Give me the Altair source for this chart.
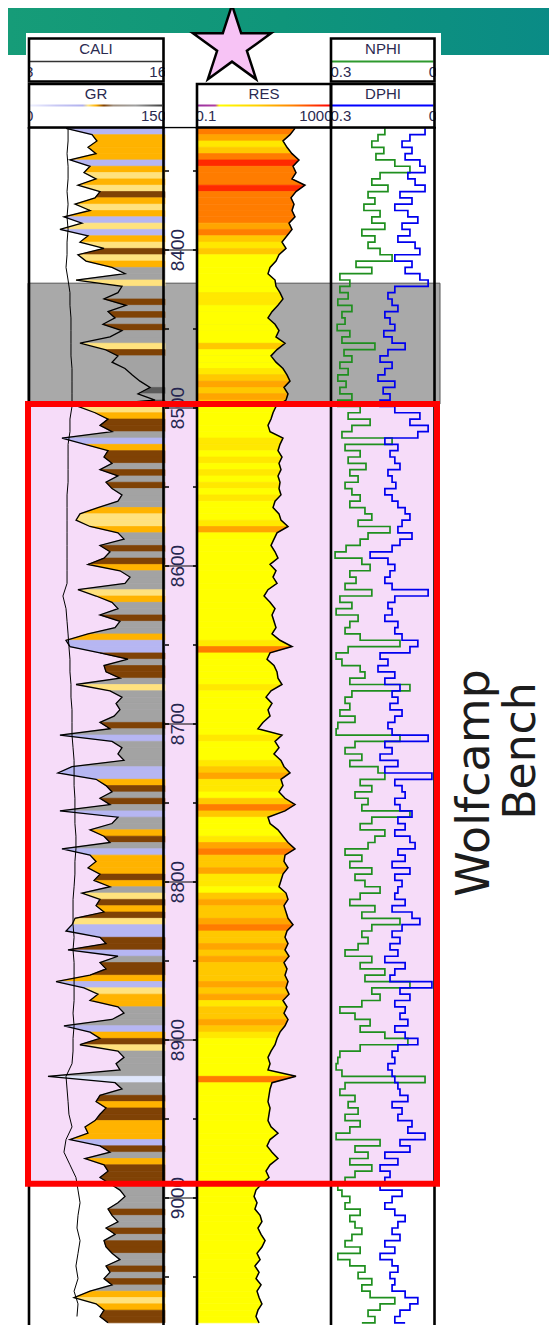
import math
import altair as alt
import pandas as pd

DEPTH_TOP = 8323   # ft, first sample
STEP = 4           # ft between samples

GR = [  # API
41.6, 70.1, 75.5, 65.7, 74.5, 46.0, 67.9, 61.3, 74.5, 54.7,
78.8, 73.4, 51.5, 67.9, 39.4, 59.1, 35.0, 65.7, 56.9, 83.2,
54.7, 63.5, 92.0, 106.2, 52.6, 102.9, 98.5, 83.2, 107.3, 87.6,
95.3, 82.1, 102.9, 89.8, 56.9, 84.3, 98.5, 92.0, 106.2, 113.9,
122.6, 133.6, 120.4, 139.1, 54.7, 73.4, 87.6, 78.8, 92.0, 37.2,
62.4, 87.6, 83.2, 92.0, 78.8, 98.5, 85.4, 92.0, 102.9, 98.5,
76.6, 56.9, 52.6, 67.9, 98.5, 105.1, 78.8, 89.8, 83.2, 65.7,
100.7, 111.7, 106.2, 54.7, 74.5, 92.0, 98.5, 78.8, 100.7, 95.3,
65.7, 41.6, 46.0, 78.8, 109.5, 83.2, 85.4, 100.7, 52.6, 89.8,
102.9, 96.4, 100.7, 94.2, 78.8, 89.8, 35.0, 92.0, 102.9, 98.5,
105.1, 48.2, 32.8, 74.5, 85.4, 92.0, 78.8, 89.8, 35.0, 98.5,
92.0, 67.9, 83.2, 89.8, 37.2, 67.9, 74.5, 65.7, 78.8, 72.3,
89.8, 59.1, 78.8, 74.5, 83.2, 51.5, 48.2, 41.6, 78.8, 85.4,
43.8, 98.5, 78.8, 85.4, 67.9, 30.7, 61.3, 76.6, 67.9, 98.5,
105.1, 92.0, 39.4, 67.9, 78.8, 56.9, 98.5, 105.1, 96.4, 100.7,
21.9, 95.3, 102.9, 78.8, 74.5, 85.4, 78.8, 73.4, 62.4, 65.7,
46.0, 78.8, 89.8, 62.4, 83.2, 87.6, 78.8, 89.8, 100.7, 106.2,
98.5, 87.6, 92.0, 98.5, 85.4, 95.3, 83.2, 85.4, 92.0, 100.7,
85.4, 89.8, 83.2, 92.0, 67.9, 50.4, 74.5, 83.2, 78.8, 87.6,
]

RES = [  # ohm.m
80.1, 57.0, 35.3, 46.4, 65.3, 105, 69.9, 85.8, 65.3, 158,
85.8, 61.0, 74.8, 65.3, 80.1, 53.2, 65.3, 46.4, 33.0, 43.4,
26.9, 21.9, 14.6, 12.7, 20.5, 21.9, 28.8, 35.3, 25.1, 16.7,
12.7, 20.5, 26.9, 21.9, 40.5, 23.5, 15.6, 21.9, 35.3, 46.4,
57.0, 37.8, 49.7, 43.4, 21.9, 17.9, 15.6, 12.7, 14.6, 35.3,
28.8, 25.1, 33.0, 26.9, 30.8, 25.1, 28.8, 26.9, 30.8, 20.5,
17.9, 26.9, 30.8, 49.7, 23.5, 19.1, 15.6, 20.5, 25.1, 14.6,
21.9, 17.9, 23.5, 12.7, 9.7, 14.6, 20.5, 16.7, 19.1, 21.9,
16.7, 28.8, 65.3, 14.6, 11.9, 19.1, 23.5, 25.1, 33.0, 15.6,
11.1, 16.7, 12.7, 14.6, 9.0, 6.4, 33.0, 20.5, 26.9, 19.1,
30.8, 37.8, 57.0, 30.8, 35.3, 26.9, 40.5, 80.1, 40.5, 12.7,
14.6, 25.1, 35.3, 49.7, 80.1, 40.5, 37.8, 49.7, 35.3, 30.8,
26.9, 43.4, 49.7, 37.8, 43.4, 49.7, 69.9, 46.4, 40.5, 49.7,
40.5, 53.2, 37.8, 46.4, 40.5, 49.7, 43.4, 53.2, 35.3, 46.4,
37.8, 49.7, 40.5, 28.8, 23.5, 20.5, 15.6, 12.7, 14.6, 12.7,
85.8, 16.7, 14.6, 13.6, 12.7, 14.6, 13.6, 12.7, 15.6, 25.1,
14.6, 11.9, 16.7, 25.1, 14.6, 11.1, 13.6, 8.4, 5.6, 4.9,
6.0, 5.2, 7.4, 8.4, 6.4, 7.9, 10.4, 8.4, 6.0, 7.4,
5.2, 6.9, 5.6, 7.9, 6.0, 6.9, 8.4, 6.4, 5.6, 6.9,
]

NPHI = [  # v/v
0.146, 0.166, 0.184, 0.149, 0.172, 0.117, 0.073, 0.160, 0.184, 0.137,
0.195, 0.175, 0.207, 0.160, 0.184, 0.146, 0.213, 0.175, 0.195, 0.160,
0.125, 0.230, 0.184, 0.277, 0.248, 0.277, 0.253, 0.283, 0.242, 0.271,
0.262, 0.285, 0.248, 0.271, 0.175, 0.265, 0.242, 0.277, 0.253, 0.283,
0.259, 0.277, 0.242, 0.283, 0.218, 0.253, 0.189, 0.242, 0.271, 0.125,
0.262, 0.218, 0.253, 0.201, 0.248, 0.224, 0.262, 0.242, 0.218, 0.248,
0.204, 0.184, 0.224, 0.131, 0.195, 0.218, 0.259, 0.291, 0.213, 0.189,
0.248, 0.230, 0.262, 0.184, 0.277, 0.242, 0.288, 0.224, 0.248, 0.262,
0.218, 0.102, 0.253, 0.288, 0.271, 0.218, 0.204, 0.248, 0.073, 0.242,
0.262, 0.248, 0.277, 0.233, 0.283, 0.288, 0.102, 0.233, 0.262, 0.213,
0.248, 0.166, 0.146, 0.218, 0.184, 0.233, 0.195, 0.213, 0.073, 0.184,
0.218, 0.146, 0.175, 0.195, 0.262, 0.213, 0.248, 0.184, 0.233, 0.204,
0.160, 0.218, 0.248, 0.175, 0.213, 0.102, 0.184, 0.213, 0.195, 0.224,
0.262, 0.184, 0.218, 0.146, 0.204, 0.073, 0.184, 0.160, 0.213, 0.277,
0.233, 0.189, 0.218, 0.146, 0.079, 0.218, 0.277, 0.283, 0.288, 0.271,
0.029, 0.262, 0.277, 0.233, 0.253, 0.224, 0.262, 0.218, 0.248, 0.288,
0.160, 0.233, 0.195, 0.248, 0.184, 0.233, 0.262, 0.283, 0.271, 0.248,
0.262, 0.218, 0.248, 0.233, 0.213, 0.242, 0.262, 0.218, 0.283, 0.248,
0.204, 0.224, 0.184, 0.213, 0.189, 0.117, 0.160, 0.195, 0.175, 0.213,
]

DPHI = [  # v/v
0.029, 0.073, 0.096, 0.067, 0.087, 0.044, 0.029, 0.079, 0.058, 0.029,
0.102, 0.067, 0.117, 0.079, 0.050, 0.096, 0.073, 0.108, 0.058, 0.044,
0.117, 0.067, 0.087, 0.044, 0.020, 0.117, 0.137, 0.125, 0.108, 0.146,
0.131, 0.117, 0.149, 0.125, 0.087, 0.137, 0.160, 0.125, 0.146, 0.166,
0.117, 0.151, 0.131, 0.160, 0.117, 0.044, 0.073, 0.020, 0.050, 0.146,
0.108, 0.131, 0.117, 0.102, 0.137, 0.125, 0.114, 0.146, 0.125, 0.108,
0.087, 0.073, 0.096, 0.108, 0.067, 0.102, 0.125, 0.189, 0.137, 0.117,
0.131, 0.146, 0.125, 0.020, 0.117, 0.137, 0.125, 0.146, 0.108, 0.117,
0.096, 0.050, 0.073, 0.160, 0.137, 0.166, 0.117, 0.146, 0.102, 0.125,
0.108, 0.131, 0.096, 0.117, 0.137, 0.125, 0.020, 0.146, 0.125, 0.160,
0.108, 0.146, 0.009, 0.117, 0.096, 0.087, 0.117, 0.102, 0.067, 0.108,
0.087, 0.117, 0.073, 0.058, 0.108, 0.087, 0.125, 0.073, 0.117, 0.096,
0.108, 0.117, 0.087, 0.125, 0.067, 0.044, 0.096, 0.125, 0.102, 0.131,
0.108, 0.146, 0.087, 0.117, 0.131, 0.009, 0.102, 0.073, 0.117, 0.087,
0.102, 0.079, 0.117, 0.087, 0.050, 0.108, 0.125, 0.117, 0.137, 0.125,
0.117, 0.108, 0.102, 0.079, 0.125, 0.096, 0.108, 0.067, 0.079, 0.029,
0.102, 0.073, 0.146, 0.108, 0.160, 0.131, 0.146, 0.160, 0.096, 0.125,
0.146, 0.117, 0.087, 0.108, 0.125, 0.102, 0.146, 0.117, 0.160, 0.125,
0.108, 0.131, 0.117, 0.125, 0.087, 0.050, 0.073, 0.102, 0.117, 0.087,
]

CALI_TOP = 8323
CALI_STEP = 8
CALI = [  # inches
10.34, 10.34, 10.28, 10.34, 10.34, 10.28, 10.34, 10.28, 10.34, 10.28,
10.28, 10.22, 10.34, 10.45, 10.45, 10.51, 10.51, 10.51, 10.51, 10.57,
10.57, 10.57, 10.57, 10.45, 10.45, 10.34, 10.34, 10.34, 10.34, 10.28,
10.28, 10.28, 10.28, 10.28, 10.28, 10.28, 10.28, 10.04, 10.22, 10.28,
10.34, 10.39, 10.45, 10.45, 10.51, 10.51, 10.57, 10.57, 10.57, 10.63,
10.69, 10.69, 10.69, 10.74, 10.74, 10.74, 10.80, 10.80, 10.74, 10.74,
10.69, 10.63, 10.63, 10.63, 10.69, 10.63, 10.69, 10.69, 10.69, 10.69,
10.63, 10.69, 10.63, 10.63, 10.57, 10.22, 10.28, 10.34, 10.39, 10.57,
10.22, 10.10, 10.45, 10.80, 10.92, 11.04, 10.92, 10.86, 11.04, 10.92,
10.80, 10.92, 10.69, 10.92, 10.86,
]

ZONE_NAMES = ["upper", "Wolfcamp Bench"]
ZONE_TOP = [8421.0, 8497.5]
ZONE_BOT = [8497.5, 8991.0]

MINOR_TICKS = [8350, 8450, 8550, 8650, 8750, 8850, 8950, 9050]
MAJOR_TICKS = [8400, 8500, 8600, 8700, 8800, 8900, 9000]

# ---------------- layout ----------------
W, H = 541, 1317
OX, OY = 8, 8
PPF = (1198.0 - 250.0) / 600.0          # px per ft
D_TOP = 8400 - (250.0 - OY) / PPF
D_BOT = 8400 + (OY + H - 250.0) / PPF

FONT = "Liberation Sans"
HDR_TXT = "#2a2a50"


def px(x):
    return x - OX


def py(y):
    return y - OY


def lin_domain(v0, v1, x0, x1):
    c0, c1 = px(x0), px(x1)
    k = (v1 - v0) / (c1 - c0)
    return [v0 - c0 * k, v0 + (W - c0) * k]


gr_sc = alt.Scale(domain=lin_domain(0, 150, 28, 165), nice=False, zero=False)
cali_sc = alt.Scale(domain=lin_domain(8, 16, 28, 165), nice=False, zero=False)
lr = lin_domain(-1, 3, 197, 332)
res_sc = alt.Scale(type="log", domain=[10 ** lr[0], 10 ** lr[1]], nice=False)
pr = lin_domain(0.3, 0.0, 332, 435)
por_sc = alt.Scale(domain=[pr[1], pr[0]], reverse=True, nice=False, zero=False)
ysc = alt.Scale(domain=[D_TOP, D_BOT], reverse=True, nice=False, zero=False)

GR_COL = alt.Scale(type="threshold", domain=[30, 50, 62, 77, 88, 126],
                   range=["#dfe6fb", "#b6b6f2", "#ffe27e", "#ffb300", "#7f4205", "#a3a3a3", "#5a5a5a"])
RES_COL = alt.Scale(type="threshold", domain=[27, 37, 47, 60, 100],
                    range=["#ffff00", "#ffe800", "#ffc800", "#ffa500", "#ff7c00", "#ff2a00"])


def Y(f):
    return alt.Y(f, scale=ysc, axis=None)


depths = [DEPTH_TOP + STEP * i for i in range(len(GR))]
df = pd.DataFrame({"depth": depths, "gr": GR, "res": RES, "nphi": NPHI, "dphi": DPHI})

# curve segments (consecutive sample pairs) so that fills follow the curves
rows = []
for i in range(len(depths) - 1):
    for j in (i, i + 1):
        rows.append({"seg": i, "depth": depths[j], "gr": GR[j], "res": RES[j],
                     "gcol": GR[i], "rcol": RES[i]})
sdf = pd.DataFrame(rows)

cdf = pd.DataFrame({"depth": [CALI_TOP + CALI_STEP * i for i in range(len(CALI))], "cali": CALI})
zones = pd.DataFrame({"zone": ZONE_NAMES, "top": ZONE_TOP, "bot": ZONE_BOT})
minor = pd.DataFrame({"d": MINOR_TICKS + MAJOR_TICKS})
major = pd.DataFrame({"d": MAJOR_TICKS, "lab": [str(v) for v in MAJOR_TICKS]})
one = pd.DataFrame({"k": [0]})


def rect(x0, y0, x1, y1, **mk):
    return alt.Chart(one).mark_rect(**mk).encode(
        x=alt.value(px(x0)), x2=alt.value(px(x1)), y=alt.value(py(y0)), y2=alt.value(py(y1)))


def hline(x0, x1, y, color, width):
    return alt.Chart(one).mark_rule(color=color, strokeWidth=width).encode(
        x=alt.value(px(x0)), x2=alt.value(px(x1)), y=alt.value(py(y)))


def vline(x, y0, y1, color, width):
    return alt.Chart(one).mark_rule(color=color, strokeWidth=width).encode(
        x=alt.value(px(x)), y=alt.value(py(y0)), y2=alt.value(py(y1)))


def label(s, x, y, size=15, align="center", color=HDR_TXT, font=FONT, **kw):
    return alt.Chart(one).mark_text(text=s, fontSize=size, align=align, baseline="middle",
                                    font=font, color=color, **kw).encode(
        x=alt.value(px(x)), y=alt.value(py(y)))


def grad(stops):
    return {"gradient": "linear", "x1": 0, "x2": 1, "y1": 0, "y2": 0,
            "stops": [{"offset": o, "color": c} for o, c in stops]}


layers = []

# banner + white log sheet
layers.append(rect(8, 8, 557, 55, fill=grad([(0, "#169c78"), (0.5, "#0f957a"), (1, "#0a8b86")])))
layers.append(rect(26, 33, 441, 55, fill="white"))

# zones
layers.append(alt.Chart(zones).transform_filter(alt.datum.zone == "upper").mark_rect(
    fill="#a9a9a9", stroke="#555555", strokeWidth=1).encode(
    x=alt.value(px(28)), x2=alt.value(px(440)), y=Y("top:Q"), y2="bot:Q"))
layers.append(alt.Chart(zones).transform_filter(alt.datum.zone == "Wolfcamp Bench").mark_rect(
    fill="#f6dcf9").encode(
    x=alt.value(px(28)), x2=alt.value(px(435)), y=Y("top:Q"), y2="bot:Q"))

# GR fill (curve -> 150), coloured by GR
layers.append(alt.Chart(sdf).mark_area(orient="horizontal", opacity=1, strokeWidth=0.7).encode(
    x=alt.X("gr:Q", scale=gr_sc, axis=None, stack=None), x2=alt.datum(150),
    y=Y("depth:Q"), detail="seg:N",
    color=alt.Color("gcol:Q", legend=None, scale=GR_COL),
    stroke=alt.Stroke("gcol:Q", legend=None, scale=GR_COL)))

# RES fill (0.1 -> curve), coloured by RES
layers.append(alt.Chart(sdf).mark_area(orient="horizontal", opacity=1, strokeWidth=0.7).encode(
    x=alt.X("res:Q", scale=res_sc, axis=None, stack=None), x2=alt.datum(0.1),
    y=Y("depth:Q"), detail="seg:N",
    color=alt.Color("rcol:Q", legend=None, scale=RES_COL),
    stroke=alt.Stroke("rcol:Q", legend=None, scale=RES_COL)))

# curves
layers.append(alt.Chart(cdf).mark_line(color="black", strokeWidth=1).encode(
    x=alt.X("cali:Q", scale=cali_sc, axis=None), y=Y("depth:Q"), order="depth:Q"))
layers.append(alt.Chart(df).mark_line(color="black", strokeWidth=1.3).encode(
    x=alt.X("gr:Q", scale=gr_sc, axis=None), y=Y("depth:Q"), order="depth:Q"))
layers.append(alt.Chart(df).mark_line(color="black", strokeWidth=1.5).encode(
    x=alt.X("res:Q", scale=res_sc, axis=None), y=Y("depth:Q"), order="depth:Q"))
layers.append(alt.Chart(df).mark_line(color="#1f8f1f", strokeWidth=1.7, interpolate="step-before").encode(
    x=alt.X("nphi:Q", scale=por_sc, axis=None), y=Y("depth:Q"), order="depth:Q"))
layers.append(alt.Chart(df).mark_line(color="#0000ee", strokeWidth=1.7, interpolate="step-before").encode(
    x=alt.X("dphi:Q", scale=por_sc, axis=None), y=Y("depth:Q"), order="depth:Q"))

# depth track ticks and labels
layers.append(alt.Chart(minor).mark_rule(color="black", strokeWidth=1.5).encode(
    y=Y("d:Q"), x=alt.value(px(165)), x2=alt.value(px(169))))
layers.append(alt.Chart(minor).mark_rule(color="black", strokeWidth=1.5).encode(
    y=Y("d:Q"), x=alt.value(px(193)), x2=alt.value(px(197))))
layers.append(alt.Chart(major).mark_rule(color="black", strokeWidth=1).encode(
    y=Y("d:Q"), x=alt.value(px(165)), x2=alt.value(px(197))))
layers.append(alt.Chart(major).mark_text(angle=270, fontSize=19, font=FONT, color="#262650",
                                         align="center", baseline="middle").encode(
    y=Y("d:Q"), x=alt.value(px(178)), text="lab:N"))

# track frame
for bx in [29, 163.5, 197, 331, 434.5]:
    layers.append(vline(bx, 127, 1333, "black", 2.6))
layers.append(hline(28, 436, 127.5, "black", 1.5))

# Wolfcamp Bench outline
layers.append(alt.Chart(zones).transform_filter(alt.datum.zone == "Wolfcamp Bench").mark_rect(
    fillOpacity=0, stroke="#ff0000", strokeWidth=6).encode(
    x=alt.value(px(28)), x2=alt.value(px(437)), y=Y("top:Q"), y2="bot:Q"))

# headers
BOXES = [(29, 38.5, 163.5, 81.5), (29, 84, 163.5, 127.5), (197, 84, 331, 127.5),
         (331, 38.5, 434.5, 81.5), (331, 84, 434.5, 127.5)]
for b in BOXES:
    layers.append(rect(*b, fill="white"))
layers.append(hline(30, 162, 61.5, "#333333", 1.5))
layers.append(hline(332, 433.5, 61.5, "#2e9a2e", 2))
layers.append(hline(332, 433.5, 105.5, "#0000ff", 2))
layers.append(rect(30, 104.5, 162, 106.5, fill=grad([
    (0, "#eef0ff"), (0.2, "#c8c8f4"), (0.4, "#b0b0ee"), (0.44, "#ffe888"), (0.5, "#ffb000"),
    (0.56, "#804000"), (0.63, "#a09080"), (0.8, "#a0a0a0"), (1, "#404040")])))
layers.append(rect(198, 104.5, 330, 106.5, fill=grad([
    (0, "#9a30a0"), (0.13, "#b040a0"), (0.16, "#ffff00"), (0.45, "#ffd000"),
    (0.72, "#ff8000"), (1, "#ff0000")])))

layers.append(label("CALI", 96, 49))
layers.append(label("GR", 96, 93.5))
layers.append(label("RES", 264, 93.5))
layers.append(label("NPHI", 383, 49))
layers.append(label("DPHI", 383, 93.5))
layers.append(label("8", 25, 72, align="left"))
layers.append(label("16", 166, 72, align="right"))
layers.append(label("0", 25, 115.5, align="left"))
layers.append(label("150", 166, 115.5, align="right"))
layers.append(label("0.1", 195.5, 115.5, align="left"))
layers.append(label("1000", 332.5, 115.5, align="right"))
layers.append(label("0.3", 330.5, 72, align="left"))
layers.append(label("0", 437, 72, align="right"))
layers.append(label("0.3", 330.5, 115.5, align="left"))
layers.append(label("0", 437, 115.5, align="right"))

# masks that clip header text at the box edges
layers.append(rect(8, 56, 28, 127, fill="white"))
layers.append(rect(165, 56, 196, 126.5, fill="white"))
layers.append(rect(436, 56, 450, 127, fill="white"))

for b in BOXES:
    layers.append(rect(*b, fillOpacity=0, stroke="black", strokeWidth=2.6))

# star
pts = []
for k in range(10):
    ang = math.radians(-90 + 36 * k)
    r = 1.0 if k % 2 == 0 else 0.382
    pts.append(f"{r * math.cos(ang):.4f},{r * math.sin(ang):.4f}")
STAR = "M" + " L".join(pts) + " Z"
layers.append(alt.Chart(one).mark_point(shape=STAR, size=6724, filled=True, fill="#f7c3f5",
                                        stroke="black", strokeWidth=2.5, opacity=1).encode(
    x=alt.value(px(232)), y=alt.value(py(46))))

# zone name
layers.append(label("Wolfcamp", 475, 783, size=46, color="#1c1c1c", font="DejaVu Sans", angle=270))
layers.append(label("Bench", 522, 751, size=44, color="#1c1c1c", font="DejaVu Sans", angle=270))

chart = alt.layer(*layers).resolve_scale(
    x="independent", color="independent", stroke="independent"
).properties(
    width=W, height=H, padding=0, autosize=alt.AutoSizeParams(type="none")
).configure_view(stroke=None)

chart.save("out.html", embed_options={"renderer": "svg", "actions": False})
